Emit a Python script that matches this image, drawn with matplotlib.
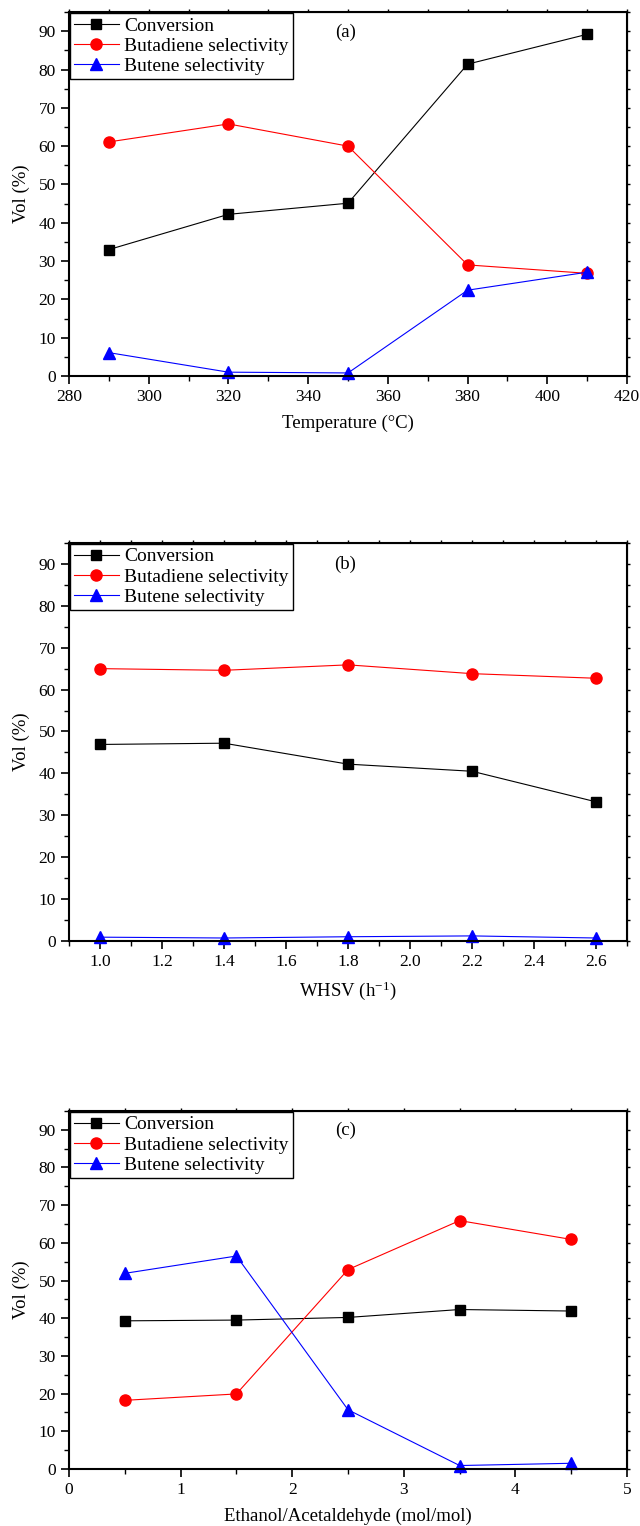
import numpy as np
import matplotlib
matplotlib.use('Agg')
import matplotlib.pyplot as plt
from matplotlib.ticker import MultipleLocator

plt.rcParams['font.family'] = ['Liberation Serif', 'DejaVu Serif']
plt.rcParams['mathtext.fontset'] = 'custom'
plt.rcParams['mathtext.rm'] = 'Liberation Serif'
plt.rcParams['mathtext.it'] = 'Liberation Serif:italic'

# (a) effect of temperature
temp = [290, 320, 350, 380, 410]
conv_a = [33.0, 42.2, 45.1, 81.4, 89.2]
buta_a = [61.1, 65.8, 60.0, 29.0, 26.8]
bute_a = [6.1, 1.0, 0.8, 22.4, 27.1]

# (b) effect of WHSV
whsv = [1.0, 1.4, 1.8, 2.2, 2.6]
conv_b = [46.9, 47.2, 42.2, 40.5, 33.2]
buta_b = [65.0, 64.6, 65.9, 63.8, 62.7]
bute_b = [0.9, 0.7, 1.0, 1.2, 0.7]

# (c) effect of ethanol/acetaldehyde ratio
ratio = [0.5, 1.5, 2.5, 3.5, 4.5]
conv_c = [39.3, 39.5, 40.2, 42.3, 41.9]
buta_c = [18.2, 19.9, 52.9, 65.9, 60.9]
bute_c = [51.9, 56.5, 15.7, 0.9, 1.5]

labels = ['Conversion', 'Butadiene selectivity', 'Butene selectivity']
xlabels = [u'Temperature (\u00b0C)', 'WHSV (h$^{-1}$)', 'Ethanol/Acetaldehyde (mol/mol)']
tags = ['(a)', '(b)', '(c)']

fig = plt.figure(figsize=(6.4, 15.26), dpi=100)
# axes boxes in figure fraction: left, bottom, width, height
boxes = [[0.1078, 0.7536, 0.872, 0.2385],
         [0.1078, 0.3834, 0.872, 0.2608],
         [0.1078, 0.0374, 0.872, 0.2346]]

panels = [(temp, conv_a, buta_a, bute_a, (280, 420), 20, 10),
          (whsv, conv_b, buta_b, bute_b, (0.9, 2.7), 0.2, 0.1),
          (ratio, conv_c, buta_c, bute_c, (0, 5), 1, 0.5)]

fs = 13.5

for i in range(3):
    x, c, bd, be, xlim, major, minor = panels[i]
    ax = fig.add_axes(boxes[i])
    ax.plot(x, c, color='black', lw=0.8, marker='s', ms=7, label=labels[0], clip_on=False)
    ax.plot(x, bd, color='red', lw=0.8, marker='o', ms=8, label=labels[1], clip_on=False)
    ax.plot(x, be, color='blue', lw=0.8, marker='^', ms=9, label=labels[2], clip_on=False)

    ax.set_xlim(xlim)
    ax.set_ylim(0, 95)
    ax.xaxis.set_major_locator(MultipleLocator(major))
    ax.xaxis.set_minor_locator(MultipleLocator(minor))
    ax.yaxis.set_major_locator(MultipleLocator(10))
    ax.yaxis.set_minor_locator(MultipleLocator(5))
    if i == 1:
        ax.xaxis.set_major_formatter(plt.FormatStrFormatter('%.1f'))

    ax.tick_params(which='both', direction='out', labelsize=12.5)
    ax.tick_params(which='major', length=6, width=1.2)
    ax.tick_params(which='minor', length=3.5, width=1.0)
    for sp in ax.spines.values():
        sp.set_linewidth(1.5)

    # short mirrored ticks on top and right
    top = ax.secondary_xaxis('top')
    top.xaxis.set_major_locator(MultipleLocator(major))
    top.xaxis.set_minor_locator(MultipleLocator(minor))
    top.tick_params(which='both', direction='out', length=2.5, width=1.0, labeltop=False)
    right = ax.secondary_yaxis('right')
    right.yaxis.set_major_locator(MultipleLocator(10))
    right.yaxis.set_minor_locator(MultipleLocator(5))
    right.tick_params(which='both', direction='out', length=2.5, width=1.0, labelright=False)

    ax.set_xlabel(xlabels[i], fontsize=fs, labelpad=7)
    ax.set_ylabel('Vol (%)', fontsize=fs, labelpad=6)
    ax.text(0.495, 0.945, tags[i], transform=ax.transAxes, fontsize=fs,
            ha='center', va='center')

    leg = ax.legend(loc='upper left', bbox_to_anchor=(0.0, 1.0), borderaxespad=0.05,
                    fontsize=14, fancybox=False, framealpha=1, edgecolor='black',
                    handlelength=2.3, handletextpad=0.3, labelspacing=0.13,
                    borderpad=0.2)
    leg.get_frame().set_linewidth(1.0)

plt.savefig('out.png', dpi=100)
